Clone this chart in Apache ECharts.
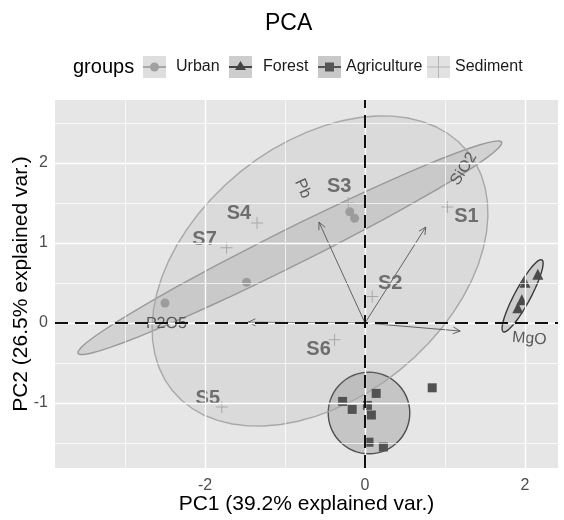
<!DOCTYPE html>
<html>
<head>
<meta charset="utf-8">
<script src="https://cdn.jsdelivr.net/npm/echarts@6/dist/echarts.min.js"></script>
<style>
html,body{margin:0;padding:0;background:#fff;}
#chart{width:564px;height:520px;}
</style>
</head>
<body>
<div id="chart"></div>
<script>
// ---- data ----
const groups = ['Urban', 'Forest', 'Agriculture', 'Sediment'];
const urbanPts = [[-2.50, 0.25], [-1.48, 0.51], [-0.19, 1.39], [-0.13, 1.31]];
const forestPts = [[2.00, 0.51], [2.16, 0.61], [1.91, 0.19], [1.96, 0.29]];
const agriPts = [[-0.28, -0.98], [-0.16, -1.08], [0.03, -1.03], [0.08, -1.15], [0.14, -0.88], [0.05, -1.49], [0.23, -1.55], [0.84, -0.81]];
const sedimentNames = ['S1', 'S2', 'S3', 'S4', 'S5', 'S6', 'S7'];
const sedimentPts = [[1.03, 1.45], [0.09, 0.33], [-0.21, 1.50], [-1.35, 1.25], [-1.79, -1.05], [-0.38, -0.21], [-1.73, 0.94]];
const varNames = ['Pb', 'SiO2', 'P2O5', 'MgO'];
const varLoadings = [[-0.575, 1.26], [0.76, 1.20], [-1.46, 0.01], [1.19, -0.10]];
// ellipse: [centerX, centerY, semiMajor, semiMinor, angleDeg]
const ellipseUrban = [-0.94, 0.94, 2.96, 0.225, 26.5];
const ellipseForest = [1.97, 0.34, 0.51, 0.10, 61.8];
const ellipseAgri = [0.05, -1.125, 0.51, 0.51, 0];
const ellipseSediment = [-0.5625, 0.65, 2.375, 1.59, 39];
const xTicks = [-2, 0, 2];
const yTicks = [-1, 0, 1, 2];
const xMinor = [-3, -1, 1];
const yMinor = [-1.5, -0.5, 0.5, 1.5, 2.5];
const xTitle = 'PC1 (39.2% explained var.)';
const yTitle = 'PC2 (26.5% explained var.)';

// ---- styling ----
const FONT = '"Liberation Sans", Arial, sans-serif';
const sedLabelOffsets = [[19, 9], [18, -13], [-9, -17], [-18, -10], [-14, -9], [-16, 10], [-22, -8]];
const varnameAdjust = 4;
const plusPath = 'path://M5.5,0 L6.5,0 L6.5,12 L5.5,12 Z M0,5.5 L12,5.5 L12,6.5 L0,6.5 Z';

const measureCtx = document.createElement('canvas').getContext('2d');
function textWidth(t, font) { measureCtx.font = font; return measureCtx.measureText(t).width; }

function ellipseSeries(name, params, fill, stroke, z) {
  return {
    type: 'custom', name: name + ' ellipse', coordinateSystem: 'cartesian2d', z: z, silent: true,
    data: [params],
    renderItem: function (p, api) {
      const cx = api.value(0), cy = api.value(1), a = api.value(2), b = api.value(3);
      const ang = api.value(4) * Math.PI / 180;
      const pts = [];
      const n = 60;
      for (let k = 0; k <= n; k++) {
        const t = 2 * Math.PI * k / n;
        const ex = a * Math.cos(t), ey = b * Math.sin(t);
        pts.push(api.coord([cx + ex * Math.cos(ang) - ey * Math.sin(ang), cy + ex * Math.sin(ang) + ey * Math.cos(ang)]));
      }
      return { type: 'polygon', shape: { points: pts }, style: { fill: fill, stroke: stroke, lineWidth: 1.4 } };
    }
  };
}

const gridLineData = []
  .concat(xMinor.map(v => ({ xAxis: v, lineStyle: { width: 0.7 } })))
  .concat(yMinor.map(v => ({ yAxis: v, lineStyle: { width: 0.7 } })))
  .concat(xTicks.map(v => ({ xAxis: v, lineStyle: { width: 1.4 } })))
  .concat(yTicks.map(v => ({ yAxis: v, lineStyle: { width: 1.4 } })));

const chart = echarts.init(document.getElementById('chart'), null, { renderer: 'canvas' });

const keyLefts = [143, 229, 318, 427];
const keyColors = ['#dedede', '#cdcdcd', '#c8c8c8', '#e2e2e2'];
const keyTextPad = [5, 6, 0, 0];
const keyTop = 56, keySize = 22;

const option = {
  animation: false,
  backgroundColor: '#ffffff',
  title: [
    { text: 'PCA', left: 265, top: 12, padding: 0, textStyle: { fontSize: 23, fontWeight: 'normal', color: '#000', fontFamily: FONT } },
    { text: 'groups', left: 73, top: 57, padding: 0, textStyle: { fontSize: 20, fontWeight: 'normal', color: '#000', fontFamily: FONT } }
  ],
  legend: groups.map((g, i) => ({
    data: [{ name: g, icon: 'rect', itemStyle: { color: keyColors[i], borderWidth: 0 } }],
    left: keyLefts[i], top: keyTop, padding: 0,
    itemWidth: 23, itemHeight: keySize, selectedMode: false,
    textStyle: { fontSize: 16, color: '#1a1a1a', fontFamily: FONT, padding: [0, 0, 0, keyTextPad[i]] }
  })),
  graphic: [
    // legend key glyphs (line + symbol)
    { type: 'line', shape: { x1: 143, y1: 67, x2: 166, y2: 67 }, style: { stroke: '#a8a8a8', lineWidth: 2 }, z: 100 },
    { type: 'circle', shape: { cx: 154.5, cy: 67, r: 4.5 }, style: { fill: '#a0a0a0' }, z: 100 },
    { type: 'line', shape: { x1: 229, y1: 67, x2: 252, y2: 67 }, style: { stroke: '#444', lineWidth: 2 }, z: 100 },
    { type: 'polygon', shape: { points: [[240.5, 61], [246, 70], [235, 70]] }, style: { fill: '#444' }, z: 100 },
    { type: 'line', shape: { x1: 318, y1: 67, x2: 341, y2: 67 }, style: { stroke: '#555', lineWidth: 2 }, z: 100 },
    { type: 'rect', shape: { x: 325, y: 62.5, width: 9, height: 9 }, style: { fill: '#555' }, z: 100 },
    { type: 'line', shape: { x1: 427, y1: 67, x2: 450, y2: 67 }, style: { stroke: '#b5b5b5', lineWidth: 1 }, z: 100 },
    { type: 'line', shape: { x1: 438.5, y1: 56, x2: 438.5, y2: 78 }, style: { stroke: '#b5b5b5', lineWidth: 1 }, z: 100 }
  ],
  grid: { left: 55, right: 6, top: 100, bottom: 52, show: true, backgroundColor: '#e6e6e6', borderWidth: 0,
    containLabel: false, outerBoundsMode: 'none' },
  xAxis: {
    type: 'value', min: -3.875, max: 2.4125,
    name: xTitle, nameLocation: 'middle', nameGap: 26, nameMoveOverlap: false,
    nameTextStyle: { fontSize: 21, color: '#000', fontFamily: FONT },
    axisLine: { show: false },
    axisTick: { show: true, customValues: xTicks, length: 4, lineStyle: { color: '#444', width: 1 } },
    axisLabel: { customValues: xTicks, fontSize: 16, color: '#4d4d4d', margin: 10, fontFamily: FONT },
    splitLine: { show: false }
  },
  yAxis: {
    type: 'value', min: -1.8125, max: 2.7875,
    name: yTitle, nameLocation: 'middle', nameGap: 23, nameRotate: 90, nameMoveOverlap: false,
    nameTextStyle: { fontSize: 21, color: '#000', fontFamily: FONT },
    axisLine: { show: false },
    axisTick: { show: true, customValues: yTicks, length: 4, lineStyle: { color: '#444', width: 1 } },
    axisLabel: { customValues: yTicks, fontSize: 16, color: '#4d4d4d', margin: 7, fontFamily: FONT },
    splitLine: { show: false }
  },
  series: [
    {
      type: 'line', name: 'grid', data: [], z: 0, silent: true,
      markLine: { silent: true, symbol: ['none', 'none'], label: { show: false },
        lineStyle: { color: '#ffffff', type: 'solid' }, data: gridLineData, animation: false }
    },
    ellipseSeries('Urban', ellipseUrban, 'rgba(140,140,140,0.22)', '#9a9a9a', 1),
    ellipseSeries('Forest', ellipseForest, 'rgba(130,130,130,0.25)', '#3a3a3a', 1),
    ellipseSeries('Agriculture', ellipseAgri, 'rgba(100,100,100,0.25)', '#4f4f4f', 1),
    ellipseSeries('Sediment', ellipseSediment, 'rgba(150,150,150,0.14)', '#a8a8a8', 1),
    {
      type: 'custom', name: 'loadings', coordinateSystem: 'cartesian2d', z: 3, silent: true,
      data: varLoadings.map((v, i) => [v[0], v[1], i]),
      renderItem: function (p, api) {
        const x = api.value(0), y = api.value(1);
        const name = varNames[api.value(2)];
        const o = api.coord([0, 0]);
        const t = api.coord([x, y]);
        const ang = Math.atan2(t[1] - o[1], t[0] - o[0]);
        const h = 8, spread = Math.PI / 7;
        const p1 = [t[0] - h * Math.cos(ang - spread), t[1] - h * Math.sin(ang - spread)];
        const p2 = [t[0] - h * Math.cos(ang + spread), t[1] - h * Math.sin(ang + spread)];
        const font = '16px ' + FONT;
        const L = textWidth(name, font);
        const textAng = Math.atan(y / x);
        const hjust = (1 - varnameAdjust * Math.sign(x)) / 2;
        const d = [Math.cos(textAng), -Math.sin(textAng)];
        const c = [t[0] + (0.5 - hjust) * L * d[0], t[1] + (0.5 - hjust) * L * d[1]];
        return {
          type: 'group', children: [
            { type: 'line', shape: { x1: o[0], y1: o[1], x2: t[0], y2: t[1] }, style: { stroke: '#555', lineWidth: 0.9 } },
            { type: 'polyline', shape: { points: [p1, t, p2] }, style: { stroke: '#555', lineWidth: 0.9, fill: null } },
            { type: 'text', x: c[0], y: c[1] + 2, rotation: textAng,
              style: { text: name, align: 'center', verticalAlign: 'middle', font: font, fill: '#5a5a5a' } }
          ]
        };
      }
    },
    { type: 'scatter', name: 'Urban', data: urbanPts, symbol: 'circle', symbolSize: 9, z: 4,
      itemStyle: { color: '#9c9c9c', opacity: 1 } },
    { type: 'scatter', name: 'Forest', data: forestPts, symbol: 'triangle', symbolSize: 11, z: 4,
      itemStyle: { color: '#4a4a4a', opacity: 1 } },
    { type: 'scatter', name: 'Agriculture', data: agriPts, symbol: 'rect', symbolSize: 9, z: 4,
      itemStyle: { color: '#525252', opacity: 1 } },
    { type: 'scatter', name: 'Sediment', symbol: plusPath, symbolSize: 12, z: 4,
      itemStyle: { color: '#a8a8a8', opacity: 1 },
      data: sedimentPts.map((pt, i) => ({ name: sedimentNames[i], value: pt, label: { offset: sedLabelOffsets[i] } })),
      label: { show: true, position: 'inside', formatter: '{b}', fontSize: 20, fontWeight: 'bold', color: '#6e6e6e', fontFamily: FONT }
    },
    {
      type: 'line', name: 'zero', data: [], z: 6, silent: true,
      markLine: { silent: true, symbol: ['none', 'none'], label: { show: false },
        lineStyle: { color: '#111', type: [13, 7], width: 2 },
        data: [{ xAxis: 0 }, { yAxis: 0 }], animation: false }
    }
  ]
};
chart.setOption(option);
</script>
</body>
</html>
